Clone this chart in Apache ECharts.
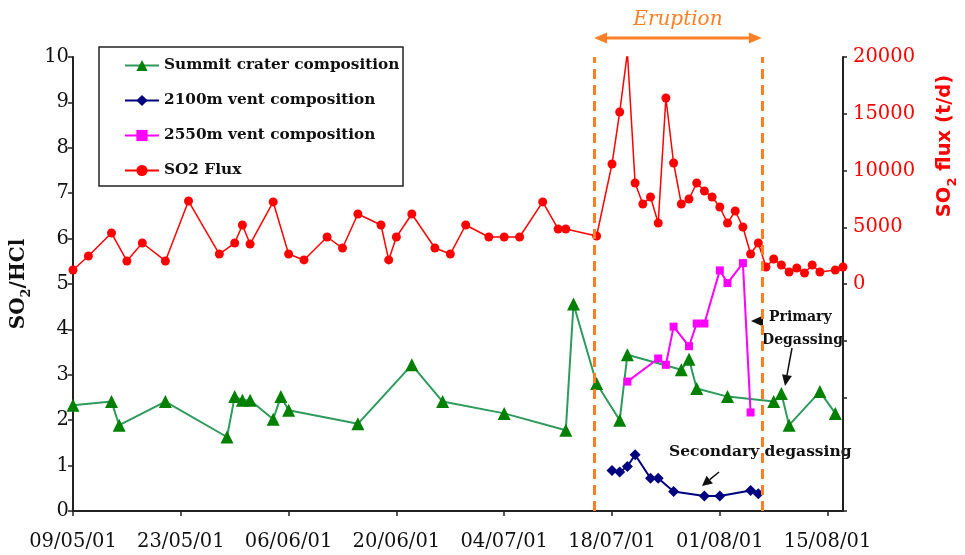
<!DOCTYPE html>
<html>
<head>
<meta charset="utf-8">
<script src="https://cdn.jsdelivr.net/npm/echarts@6/dist/echarts.min.js"></script>
<style>
  html, body { margin: 0; padding: 0; background: #fff; }
  #chart { width: 965px; height: 555px; }
</style>
</head>
<body>
<div id="chart"></div>
<script>
// Time axis: days counted from the first date, ticks every 14 days
const axisStart = '2001-05-09';
const axisLength = 100;
const tickStep = 14;
const xTickLabels = ['09/05/01', '23/05/01', '06/06/01', '20/06/01', '04/07/01', '18/07/01', '01/08/01', '15/08/01'];

// Summit crater SO2/HCl
const summitDates = ['2001-05-09', '2001-05-14', '2001-05-15', '2001-05-21', '2001-05-29', '2001-05-30', '2001-05-31', '2001-06-01',
  '2001-06-04', '2001-06-05', '2001-06-06', '2001-06-15', '2001-06-22', '2001-06-26', '2001-07-04', '2001-07-12', '2001-07-13',
  '2001-07-16', '2001-07-19', '2001-07-20', '2001-07-27', '2001-07-28', '2001-07-29', '2001-08-02', '2001-08-08', '2001-08-09',
  '2001-08-10', '2001-08-14', '2001-08-16'];
const summitValues = [2.33, 2.41, 1.89, 2.41, 1.63, 2.52, 2.44, 2.44,
  2.02, 2.52, 2.22, 1.92, 3.22, 2.41, 2.15, 1.78, 4.56,
  2.81, 2.00, 3.44, 3.11, 3.34, 2.70, 2.52, 2.41, 2.59,
  1.89, 2.63, 2.15];

// 2100 m vent SO2/HCl
const vent2100Dates = ['2001-07-18', '2001-07-19', '2001-07-20', '2001-07-21', '2001-07-23', '2001-07-24', '2001-07-26',
  '2001-07-30', '2001-08-01', '2001-08-05', '2001-08-06'];
const vent2100Values = [0.89, 0.86, 0.98, 1.24, 0.72, 0.72, 0.43, 0.33, 0.33, 0.45, 0.38];

// 2550 m vent SO2/HCl
const vent2550Dates = ['2001-07-20', '2001-07-24', '2001-07-25', '2001-07-26', '2001-07-28', '2001-07-29', '2001-07-30',
  '2001-08-01', '2001-08-02', '2001-08-04', '2001-08-05'];
const vent2550Values = [2.85, 3.36, 3.22, 4.06, 3.63, 4.13, 4.13, 5.30, 5.02, 5.46, 2.17];

// SO2 flux (t/d)
const fluxDates = ['2001-05-09', '2001-05-11', '2001-05-14', '2001-05-16', '2001-05-18', '2001-05-21', '2001-05-24', '2001-05-28',
  '2001-05-30', '2001-05-31', '2001-06-01', '2001-06-04', '2001-06-06', '2001-06-08', '2001-06-11', '2001-06-13', '2001-06-15',
  '2001-06-18', '2001-06-19', '2001-06-20', '2001-06-22', '2001-06-25', '2001-06-27', '2001-06-29', '2001-07-02', '2001-07-04',
  '2001-07-06', '2001-07-09', '2001-07-11', '2001-07-12', '2001-07-16', '2001-07-18', '2001-07-19', '2001-07-20', '2001-07-21',
  '2001-07-22', '2001-07-23', '2001-07-24', '2001-07-25', '2001-07-26', '2001-07-27', '2001-07-28', '2001-07-29', '2001-07-30',
  '2001-07-31', '2001-08-01', '2001-08-02', '2001-08-03', '2001-08-04', '2001-08-05', '2001-08-06', '2001-08-07', '2001-08-08',
  '2001-08-09', '2001-08-10', '2001-08-11', '2001-08-12', '2001-08-13', '2001-08-14', '2001-08-16', '2001-08-17'];
const fluxValues = [1230, 2470, 4490, 2030, 3610, 2030, 7310, 2640,
  3610, 5200, 3520, 7230, 2640, 2120, 4140, 3170, 6170,
  5200, 2120, 4140, 6170, 3170, 2640, 5200, 4140, 4140,
  4140, 7230, 4850, 4850, 4230, 10570, 15150, 20400, 8900,
  7050, 7670, 5370, 16390, 10660, 7050, 7490, 8900, 8190,
  7670, 6780, 5370, 6430, 5020, 2640, 3610, 1500, 2200,
  1670, 1060, 1410, 970, 1670, 1060, 1230, 1500];

// Eruption period
const eruptionBounds = ['2001-07-15T16:00', '2001-08-06T11:00'];

const seriesNames = ['Summit crater composition', '2100m vent composition', '2550m vent composition', 'SO2 Flux'];

function dayOf(s) {
  const iso = s.length === 10 ? s + 'T00:00:00Z' : s + ':00Z';
  return (Date.parse(iso) - Date.parse(axisStart + 'T00:00:00Z')) / 86400000;
}
function pairs(dates, values) {
  return dates.map((d, i) => [dayOf(d), values[i]]);
}

const SERIF = 'DejaVu Serif';
const chart = echarts.init(document.getElementById('chart'), null, { renderer: 'canvas' });

const option = {
  animation: false,
  backgroundColor: '#ffffff',
  grid: { left: 73, right: 122, top: 57, bottom: 44, containLabel: false, outerBoundsMode: 'none' },
  legend: {
    orient: 'vertical',
    left: 124,
    top: 58,
    itemWidth: 34,
    itemHeight: 14,
    itemGap: 20,
    padding: 0,
    data: seriesNames,
    textStyle: { fontFamily: SERIF, fontWeight: 'bold', fontSize: 15.3, color: '#111' }
  },
  xAxis: {
    type: 'value',
    min: 0,
    max: axisLength,
    interval: tickStep,
    splitLine: { show: false },
    axisLine: { lineStyle: { color: '#222', width: 2 } },
    axisTick: { length: 5, lineStyle: { color: '#222', width: 1.5 } },
    axisLabel: {
      margin: 21,
      showMaxLabel: false,
      fontFamily: SERIF,
      fontSize: 19.5,
      color: '#111',
      formatter: v => (v % tickStep === 0 ? (xTickLabels[v / tickStep] || '') : '')
    }
  },
  yAxis: [
    {
      type: 'value',
      min: 0,
      max: 10,
      interval: 1,
      position: 'left',
      splitLine: { show: false },
      axisLine: { show: true, lineStyle: { color: '#222', width: 2 } },
      axisTick: { show: true, length: 5, lineStyle: { color: '#222', width: 1.5 } },
      axisLabel: { margin: 4, fontFamily: SERIF, fontSize: 19.5, color: '#111' },
      name: '{n|SO}{s|2}{n|/HCl}',
      nameLocation: 'middle',
      nameRotate: 90,
      nameGap: 40,
      nameTextStyle: {
        rich: {
          n: { fontFamily: SERIF, fontWeight: 'bold', fontSize: 20, color: '#111', lineHeight: 28, verticalAlign: 'middle' },
          s: { fontFamily: SERIF, fontWeight: 'bold', fontSize: 13, color: '#111', lineHeight: 28, verticalAlign: 'bottom' }
        }
      }
    },
    {
      type: 'value',
      min: -20000,
      max: 20000,
      interval: 5000,
      position: 'right',
      splitLine: { show: false },
      axisLine: { show: true, lineStyle: { color: '#222', width: 2 } },
      axisTick: { show: true, length: 4, lineStyle: { color: '#222', width: 1.5 } },
      axisLabel: {
        margin: 10,
        fontFamily: SERIF,
        fontSize: 19.5,
        color: '#ff0000',
        formatter: v => (v >= 0 ? String(v) : '')
      }
    }
  ],
  series: [
    {
      name: seriesNames[0],
      type: 'line',
      yAxisIndex: 0,
      data: pairs(summitDates, summitValues),
      symbol: 'triangle',
      symbolSize: 13,
      lineStyle: { color: '#2e9a5c', width: 2 },
      itemStyle: { color: '#008000' },
      z: 3,
      markLine: {
        silent: true,
        symbol: ['none', 'none'],
        label: { show: false },
        lineStyle: { color: '#ff7f27', width: 3, type: [10, 6] },
        data: eruptionBounds.map(b => ({ xAxis: dayOf(b) }))
      }
    },
    {
      name: seriesNames[1],
      type: 'line',
      yAxisIndex: 0,
      data: pairs(vent2100Dates, vent2100Values),
      symbol: 'diamond',
      symbolSize: 11,
      lineStyle: { color: '#000080', width: 2 },
      itemStyle: { color: '#000080' },
      z: 3
    },
    {
      name: seriesNames[2],
      type: 'line',
      yAxisIndex: 0,
      data: pairs(vent2550Dates, vent2550Values),
      symbol: 'rect',
      symbolSize: 8,
      lineStyle: { color: '#ff00ff', width: 2 },
      itemStyle: { color: '#ff00ff' },
      z: 3
    },
    {
      name: seriesNames[3],
      type: 'line',
      yAxisIndex: 1,
      data: pairs(fluxDates, fluxValues),
      symbol: 'circle',
      symbolSize: 9,
      lineStyle: { color: '#ff0000', width: 1.5 },
      itemStyle: { color: '#ff0000' },
      z: 4
    }
  ]
};

chart.setOption(option);

// Annotation helpers
function arrow(x1, y1, x2, y2, color, width, headLen, headHalf) {
  const dx = x2 - x1, dy = y2 - y1, L = Math.hypot(dx, dy);
  const ux = dx / L, uy = dy / L;
  const bx = x2 - ux * headLen, by = y2 - uy * headLen;
  return [
    { type: 'line', silent: true, shape: { x1: x1, y1: y1, x2: bx, y2: by }, style: { stroke: color, lineWidth: width } },
    { type: 'polygon', silent: true, shape: { points: [[x2, y2], [bx - uy * headHalf, by + ux * headHalf], [bx + uy * headHalf, by - ux * headHalf]] }, style: { fill: color } }
  ];
}

const ORANGE = '#ff7f27';
const eStart = chart.convertToPixel({ xAxisIndex: 0 }, dayOf(eruptionBounds[0]));
const eEnd = chart.convertToPixel({ xAxisIndex: 0 }, dayOf(eruptionBounds[1]));
const eMid = (eStart + eEnd) / 2;
const eY = 38;

const graphics = [
  // legend frame
  { type: 'rect', silent: true, shape: { x: 99, y: 47, width: 304, height: 139 }, style: { fill: 'none', stroke: '#222', lineWidth: 1.5 } },
  // eruption span
  ...arrow(eMid, eY, eStart, eY, ORANGE, 3, 13, 5.5),
  ...arrow(eMid, eY, eEnd, eY, ORANGE, 3, 13, 5.5),
  { type: 'text', silent: true, x: eMid, y: 20, style: { text: 'Eruption', fill: ORANGE, font: 'italic 20px "DejaVu Serif"', align: 'center', verticalAlign: 'middle' } },
  // right axis title
  {
    type: 'text', silent: true, x: 945, y: 146, rotation: Math.PI / 2,
    style: {
      text: '{n|SO}{s|2}{n| flux (t/d)}', align: 'center', verticalAlign: 'middle',
      rich: {
        n: { fontFamily: 'DejaVu Sans', fontWeight: 'bold', fontSize: 19.5, fill: '#ff0000', lineHeight: 28, verticalAlign: 'middle' },
        s: { fontFamily: 'DejaVu Sans', fontWeight: 'bold', fontSize: 13, fill: '#ff0000', lineHeight: 28, verticalAlign: 'bottom' }
      }
    }
  },
  // primary degassing note
  { type: 'text', silent: true, x: 769, y: 317, style: { text: 'Primary', fill: '#111', font: 'bold 14px "DejaVu Serif"', align: 'left', verticalAlign: 'middle' } },
  { type: 'text', silent: true, x: 762, y: 340, style: { text: 'Degassing', fill: '#111', font: 'bold 14px "DejaVu Serif"', align: 'left', verticalAlign: 'middle' } },
  { type: 'polygon', silent: true, shape: { points: [[751, 321], [763, 315.5], [763, 326.5]] }, style: { fill: '#111' } },
  ...arrow(792, 348, 785, 386, '#111', 1.5, 11, 5),
  // secondary degassing note
  { type: 'text', silent: true, x: 669, y: 452, style: { text: 'Secondary degassing', fill: '#111', font: 'bold 15.5px "DejaVu Serif"', align: 'left', verticalAlign: 'middle' } },
  ...arrow(719, 472, 702, 486, '#111', 1.5, 10, 5)
];

chart.setOption({ graphic: graphics });
</script>
</body>
</html>
